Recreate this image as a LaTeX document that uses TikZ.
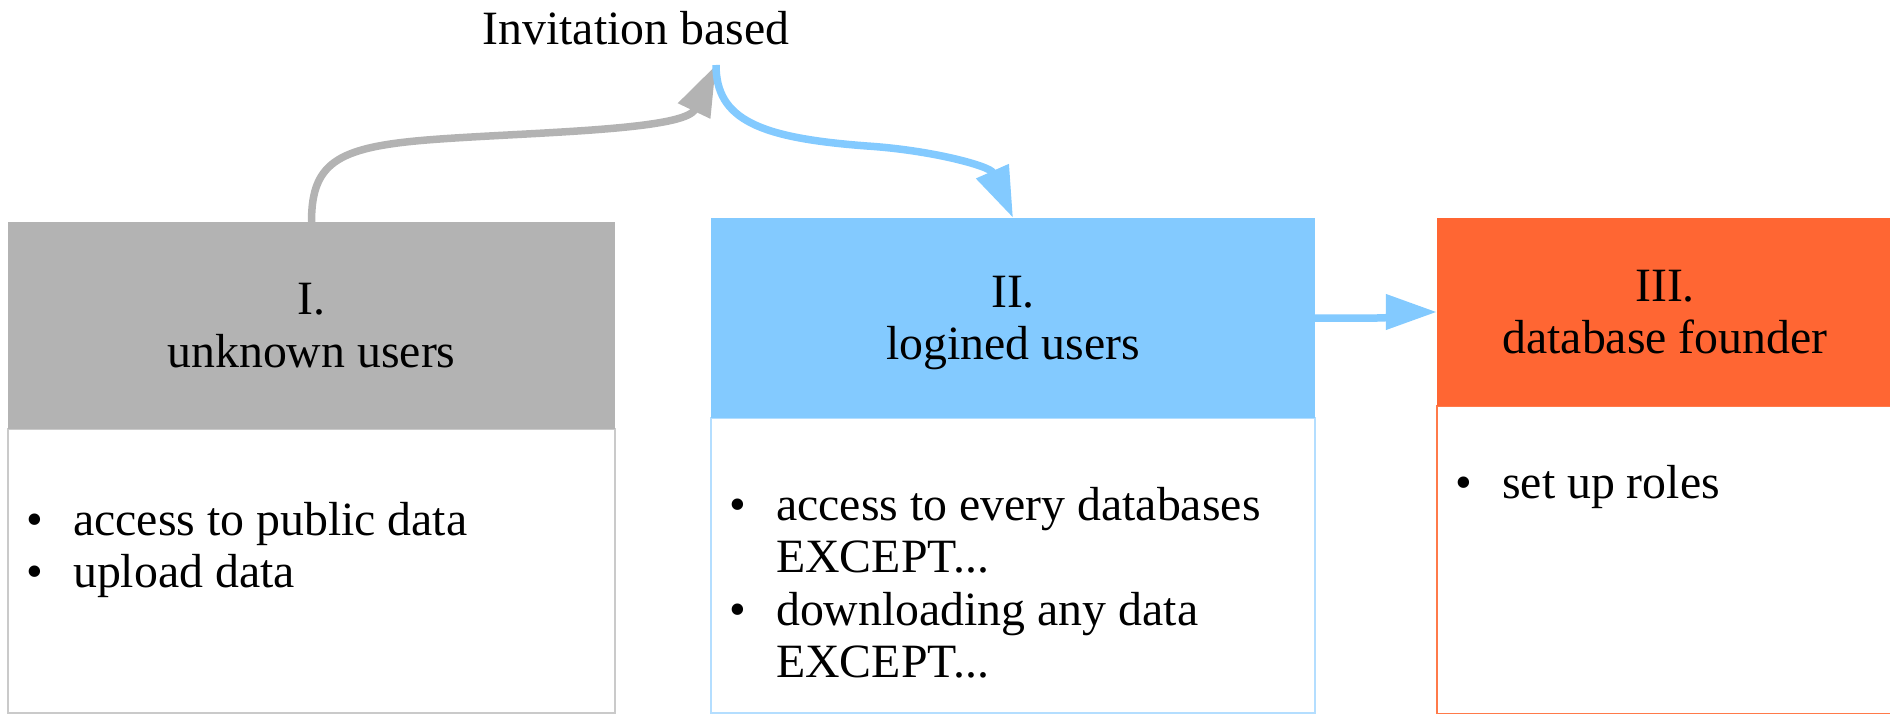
\documentclass[tikz,border=0pt]{standalone}
\usepackage{fontspec}
\setmainfont{Liberation Serif}
\usetikzlibrary{arrows.meta}
\definecolor{hgray}{HTML}{B3B3B3}
\definecolor{hblue}{HTML}{83CAFF}
\definecolor{horange}{HTML}{FF6633}
\definecolor{bgray}{HTML}{CACACA}
\definecolor{bblue}{HTML}{B4DEFF}
\definecolor{borange}{HTML}{FF7A4A}
\newcommand{\bigfont}{\fontsize{47.8}{52.5}\selectfont}
\newcommand{\itm}{\makebox[46.4pt][l]{\textbullet}}
\newcommand{\cont}{\hspace*{46.4pt}}
\begin{document}
\begin{tikzpicture}[x=1pt,y=-1pt,
  head/.style={rectangle, inner sep=0pt, align=center, font=\bigfont, text depth=0pt},
  body/.style={rectangle, inner sep=0pt, line width=1.5pt, fill=white},
  items/.style={anchor=base west, inner sep=0pt, font=\bigfont},
  conn/.style={line width=7.5pt, -{Triangle[length=51pt,width=34pt]}},
]
\useasboundingbox (0,0) rectangle (1890,714);
% bodies
\node[body, draw=bgray, minimum width=607pt, minimum height=284pt] (b1) at (311.5,571) {};
\node[body, draw=bblue, minimum width=604pt, minimum height=295pt] (b2) at (1013,565.5) {};
\node[body, draw=borange, minimum width=456pt, minimum height=308pt] (b3) at (1665,560) {};
% headers
\node[head, fill=hgray, minimum width=607pt, minimum height=207pt] (h1) at (311.5,325.5) {I.\\unknown users};
\node[head, fill=hblue, minimum width=604pt, minimum height=200pt] (h2) at (1013,318) {II.\\logined users};
\node[head, fill=horange, minimum width=456pt, minimum height=188pt] (h3) at (1665,312) {III.\\database founder};
% items
\node[items] (t1) at (26.6,535) {\begin{tabular}[t]{@{}l@{}}\itm access to public data\\ \itm upload data\end{tabular}};
\node[items] (t2) at (729.6,520) {\begin{tabular}[t]{@{}l@{}}\itm access to every databases\\ \cont EXCEPT...\\ \itm downloading any data\\ \cont EXCEPT...\end{tabular}};
\node[items] (t3) at (1455.6,498) {\begin{tabular}[t]{@{}l@{}}\itm set up roles\end{tabular}};
% label
\node[anchor=base, inner sep=0pt, font=\bigfont] (inv) at (636,45) {Invitation based};
\coordinate (hub) at (716,65);
\coordinate (gmid) at (440,139);
\coordinate (bmid) at (867,146);
% connectors
\draw[conn, hgray] (h1.north) .. controls +(0,-62) and +(-100,7) .. (gmid) .. controls +(100,-7) and +(-31,65) .. (hub);
\draw[conn, hblue] (hub) .. controls +(0,55) and +(-107,-8) .. (bmid) .. controls +(63,4) and +(-23,-52) .. (h2.north);
\draw[conn, hblue] (h2.east) -- ++(62,0) to[out=0,in=180] (h3.west);
\end{tikzpicture}
\end{document}
